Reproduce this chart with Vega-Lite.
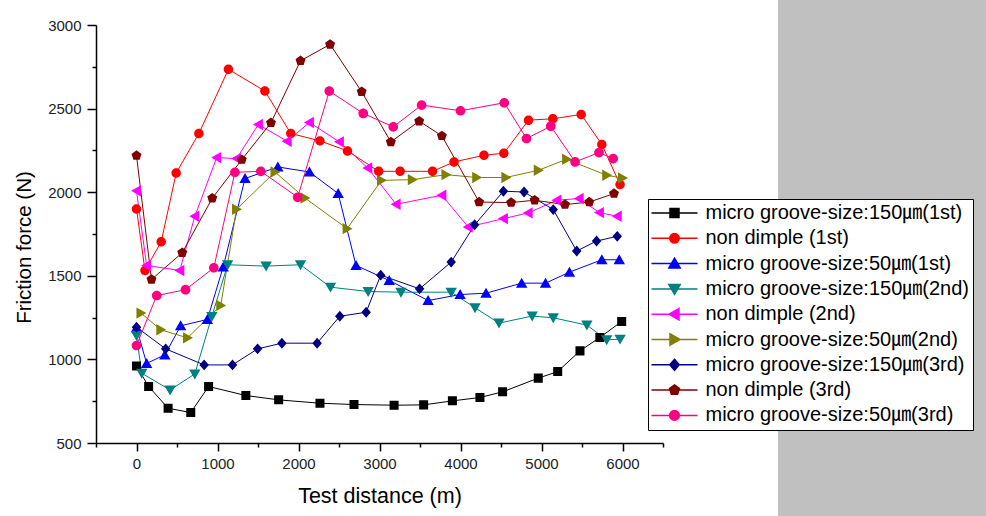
{
  "$schema": "https://vega.github.io/schema/vega-lite/v6.json",
  "width": 567,
  "height": 418,
  "autosize": {"type": "none"},
  "padding": {"left": 96, "top": 25, "right": 323, "bottom": 73},
  "background": "white",
  "config": {"view": {"stroke": null}, "font": "Liberation Sans"},
  "datasets": {
    "pts": [
      {"s": "micro groove-size:150㎛(1st)", "x": 0, "y": 960},
      {"s": "micro groove-size:150㎛(1st)", "x": 150, "y": 838},
      {"s": "micro groove-size:150㎛(1st)", "x": 390, "y": 708},
      {"s": "micro groove-size:150㎛(1st)", "x": 670, "y": 682},
      {"s": "micro groove-size:150㎛(1st)", "x": 890, "y": 838},
      {"s": "micro groove-size:150㎛(1st)", "x": 1350, "y": 784},
      {"s": "micro groove-size:150㎛(1st)", "x": 1755, "y": 758},
      {"s": "micro groove-size:150㎛(1st)", "x": 2265, "y": 738},
      {"s": "micro groove-size:150㎛(1st)", "x": 2685, "y": 730},
      {"s": "micro groove-size:150㎛(1st)", "x": 3180, "y": 726},
      {"s": "micro groove-size:150㎛(1st)", "x": 3545, "y": 728},
      {"s": "micro groove-size:150㎛(1st)", "x": 3900, "y": 752},
      {"s": "micro groove-size:150㎛(1st)", "x": 4240, "y": 772},
      {"s": "micro groove-size:150㎛(1st)", "x": 4520, "y": 806},
      {"s": "micro groove-size:150㎛(1st)", "x": 4960, "y": 888},
      {"s": "micro groove-size:150㎛(1st)", "x": 5200, "y": 927},
      {"s": "micro groove-size:150㎛(1st)", "x": 5475, "y": 1051},
      {"s": "micro groove-size:150㎛(1st)", "x": 5720, "y": 1131},
      {"s": "micro groove-size:150㎛(1st)", "x": 5990, "y": 1227},

      {"s": "non dimple (1st)", "x": 0, "y": 1900},
      {"s": "non dimple (1st)", "x": 105, "y": 1532},
      {"s": "non dimple (1st)", "x": 305, "y": 1704},
      {"s": "non dimple (1st)", "x": 490, "y": 2115},
      {"s": "non dimple (1st)", "x": 770, "y": 2351},
      {"s": "non dimple (1st)", "x": 1135, "y": 2735},
      {"s": "non dimple (1st)", "x": 1585, "y": 2605},
      {"s": "non dimple (1st)", "x": 1905, "y": 2351},
      {"s": "non dimple (1st)", "x": 2265, "y": 2307},
      {"s": "non dimple (1st)", "x": 2605, "y": 2247},
      {"s": "non dimple (1st)", "x": 2990, "y": 2125},
      {"s": "non dimple (1st)", "x": 3255, "y": 2125},
      {"s": "non dimple (1st)", "x": 3655, "y": 2125},
      {"s": "non dimple (1st)", "x": 3920, "y": 2181},
      {"s": "non dimple (1st)", "x": 4290, "y": 2221},
      {"s": "non dimple (1st)", "x": 4535, "y": 2233},
      {"s": "non dimple (1st)", "x": 4840, "y": 2431},
      {"s": "non dimple (1st)", "x": 5140, "y": 2439},
      {"s": "non dimple (1st)", "x": 5490, "y": 2465},
      {"s": "non dimple (1st)", "x": 5745, "y": 2285},
      {"s": "non dimple (1st)", "x": 5970, "y": 2046},

      {"s": "micro groove-size:50㎛(1st)", "x": 0, "y": 1190},
      {"s": "micro groove-size:50㎛(1st)", "x": 125, "y": 976},
      {"s": "micro groove-size:50㎛(1st)", "x": 350, "y": 1027},
      {"s": "micro groove-size:50㎛(1st)", "x": 545, "y": 1201},
      {"s": "micro groove-size:50㎛(1st)", "x": 875, "y": 1239},
      {"s": "micro groove-size:50㎛(1st)", "x": 1070, "y": 1552},
      {"s": "micro groove-size:50㎛(1st)", "x": 1340, "y": 2082},
      {"s": "micro groove-size:50㎛(1st)", "x": 1745, "y": 2151},
      {"s": "micro groove-size:50㎛(1st)", "x": 2135, "y": 2121},
      {"s": "micro groove-size:50㎛(1st)", "x": 2490, "y": 1992},
      {"s": "micro groove-size:50㎛(1st)", "x": 2710, "y": 1562},
      {"s": "micro groove-size:50㎛(1st)", "x": 3120, "y": 1472},
      {"s": "micro groove-size:50㎛(1st)", "x": 3600, "y": 1352},
      {"s": "micro groove-size:50㎛(1st)", "x": 3995, "y": 1388},
      {"s": "micro groove-size:50㎛(1st)", "x": 4315, "y": 1396},
      {"s": "micro groove-size:50㎛(1st)", "x": 4755, "y": 1456},
      {"s": "micro groove-size:50㎛(1st)", "x": 5050, "y": 1456},
      {"s": "micro groove-size:50㎛(1st)", "x": 5345, "y": 1522},
      {"s": "micro groove-size:50㎛(1st)", "x": 5745, "y": 1596},
      {"s": "micro groove-size:50㎛(1st)", "x": 5960, "y": 1596},

      {"s": "micro groove-size:150㎛(2nd)", "x": 0, "y": 1143},
      {"s": "micro groove-size:150㎛(2nd)", "x": 65, "y": 917},
      {"s": "micro groove-size:150㎛(2nd)", "x": 415, "y": 817},
      {"s": "micro groove-size:150㎛(2nd)", "x": 720, "y": 913},
      {"s": "micro groove-size:150㎛(2nd)", "x": 930, "y": 1257},
      {"s": "micro groove-size:150㎛(2nd)", "x": 1125, "y": 1566},
      {"s": "micro groove-size:150㎛(2nd)", "x": 1600, "y": 1558},
      {"s": "micro groove-size:150㎛(2nd)", "x": 2025, "y": 1566},
      {"s": "micro groove-size:150㎛(2nd)", "x": 2395, "y": 1432},
      {"s": "micro groove-size:150㎛(2nd)", "x": 2860, "y": 1406},
      {"s": "micro groove-size:150㎛(2nd)", "x": 3265, "y": 1402},
      {"s": "micro groove-size:150㎛(2nd)", "x": 3885, "y": 1402},
      {"s": "micro groove-size:150㎛(2nd)", "x": 4180, "y": 1309},
      {"s": "micro groove-size:150㎛(2nd)", "x": 4475, "y": 1217},
      {"s": "micro groove-size:150㎛(2nd)", "x": 4885, "y": 1259},
      {"s": "micro groove-size:150㎛(2nd)", "x": 5145, "y": 1249},
      {"s": "micro groove-size:150㎛(2nd)", "x": 5560, "y": 1205},
      {"s": "micro groove-size:150㎛(2nd)", "x": 5805, "y": 1117},
      {"s": "micro groove-size:150㎛(2nd)", "x": 5970, "y": 1121},

      {"s": "non dimple (2nd)", "x": 0, "y": 2008},
      {"s": "non dimple (2nd)", "x": 125, "y": 1562},
      {"s": "non dimple (2nd)", "x": 535, "y": 1532},
      {"s": "non dimple (2nd)", "x": 720, "y": 1856},
      {"s": "non dimple (2nd)", "x": 990, "y": 2207},
      {"s": "non dimple (2nd)", "x": 1235, "y": 2201},
      {"s": "non dimple (2nd)", "x": 1505, "y": 2405},
      {"s": "non dimple (2nd)", "x": 1860, "y": 2305},
      {"s": "non dimple (2nd)", "x": 2135, "y": 2417},
      {"s": "non dimple (2nd)", "x": 2505, "y": 2301},
      {"s": "non dimple (2nd)", "x": 2855, "y": 2145},
      {"s": "non dimple (2nd)", "x": 3205, "y": 1928},
      {"s": "non dimple (2nd)", "x": 3770, "y": 1982},
      {"s": "non dimple (2nd)", "x": 4095, "y": 1792},
      {"s": "non dimple (2nd)", "x": 4530, "y": 1842},
      {"s": "non dimple (2nd)", "x": 4835, "y": 1876},
      {"s": "non dimple (2nd)", "x": 5190, "y": 1952},
      {"s": "non dimple (2nd)", "x": 5465, "y": 1962},
      {"s": "non dimple (2nd)", "x": 5715, "y": 1878},
      {"s": "non dimple (2nd)", "x": 5935, "y": 1856},

      {"s": "micro groove-size:50㎛(2nd)", "x": 55, "y": 1277},
      {"s": "micro groove-size:50㎛(2nd)", "x": 300, "y": 1177},
      {"s": "micro groove-size:50㎛(2nd)", "x": 630, "y": 1129},
      {"s": "micro groove-size:50㎛(2nd)", "x": 1040, "y": 1323},
      {"s": "micro groove-size:50㎛(2nd)", "x": 1235, "y": 1898},
      {"s": "micro groove-size:50㎛(2nd)", "x": 1710, "y": 2121},
      {"s": "micro groove-size:50㎛(2nd)", "x": 2080, "y": 1965},
      {"s": "micro groove-size:50㎛(2nd)", "x": 2600, "y": 1782},
      {"s": "micro groove-size:50㎛(2nd)", "x": 3025, "y": 2071},
      {"s": "micro groove-size:50㎛(2nd)", "x": 3405, "y": 2075},
      {"s": "micro groove-size:50㎛(2nd)", "x": 3820, "y": 2105},
      {"s": "micro groove-size:50㎛(2nd)", "x": 4200, "y": 2088},
      {"s": "micro groove-size:50㎛(2nd)", "x": 4560, "y": 2088},
      {"s": "micro groove-size:50㎛(2nd)", "x": 4960, "y": 2131},
      {"s": "micro groove-size:50㎛(2nd)", "x": 5310, "y": 2197},
      {"s": "micro groove-size:50㎛(2nd)", "x": 5805, "y": 2101},
      {"s": "micro groove-size:50㎛(2nd)", "x": 6000, "y": 2085},

      {"s": "micro groove-size:150㎛(3rd)", "x": 0, "y": 1193},
      {"s": "micro groove-size:150㎛(3rd)", "x": 360, "y": 1063},
      {"s": "micro groove-size:150㎛(3rd)", "x": 835, "y": 967},
      {"s": "micro groove-size:150㎛(3rd)", "x": 1185, "y": 967},
      {"s": "micro groove-size:150㎛(3rd)", "x": 1495, "y": 1063},
      {"s": "micro groove-size:150㎛(3rd)", "x": 1795, "y": 1097},
      {"s": "micro groove-size:150㎛(3rd)", "x": 2230, "y": 1097},
      {"s": "micro groove-size:150㎛(3rd)", "x": 2510, "y": 1258},
      {"s": "micro groove-size:150㎛(3rd)", "x": 2835, "y": 1282},
      {"s": "micro groove-size:150㎛(3rd)", "x": 3015, "y": 1504},
      {"s": "micro groove-size:150㎛(3rd)", "x": 3495, "y": 1422},
      {"s": "micro groove-size:150㎛(3rd)", "x": 3885, "y": 1582},
      {"s": "micro groove-size:150㎛(3rd)", "x": 4175, "y": 1805},
      {"s": "micro groove-size:150㎛(3rd)", "x": 4530, "y": 2006},
      {"s": "micro groove-size:150㎛(3rd)", "x": 4785, "y": 2001},
      {"s": "micro groove-size:150㎛(3rd)", "x": 5145, "y": 1896},
      {"s": "micro groove-size:150㎛(3rd)", "x": 5435, "y": 1648},
      {"s": "micro groove-size:150㎛(3rd)", "x": 5680, "y": 1708},
      {"s": "micro groove-size:150㎛(3rd)", "x": 5935, "y": 1736},

      {"s": "non dimple (3rd)", "x": 0, "y": 2219},
      {"s": "non dimple (3rd)", "x": 185, "y": 1478},
      {"s": "non dimple (3rd)", "x": 565, "y": 1638},
      {"s": "non dimple (3rd)", "x": 935, "y": 1964},
      {"s": "non dimple (3rd)", "x": 1300, "y": 2195},
      {"s": "non dimple (3rd)", "x": 1660, "y": 2415},
      {"s": "non dimple (3rd)", "x": 2025, "y": 2786},
      {"s": "non dimple (3rd)", "x": 2390, "y": 2884},
      {"s": "non dimple (3rd)", "x": 2780, "y": 2601},
      {"s": "non dimple (3rd)", "x": 3140, "y": 2301},
      {"s": "non dimple (3rd)", "x": 3490, "y": 2425},
      {"s": "non dimple (3rd)", "x": 3770, "y": 2337},
      {"s": "non dimple (3rd)", "x": 4230, "y": 1941},
      {"s": "non dimple (3rd)", "x": 4625, "y": 1938},
      {"s": "non dimple (3rd)", "x": 4915, "y": 1952},
      {"s": "non dimple (3rd)", "x": 5290, "y": 1926},
      {"s": "non dimple (3rd)", "x": 5590, "y": 1941},
      {"s": "non dimple (3rd)", "x": 5895, "y": 1992},

      {"s": "micro groove-size:50㎛(3rd)", "x": 0, "y": 1083},
      {"s": "micro groove-size:50㎛(3rd)", "x": 250, "y": 1382},
      {"s": "micro groove-size:50㎛(3rd)", "x": 605, "y": 1417},
      {"s": "micro groove-size:50㎛(3rd)", "x": 955, "y": 1548},
      {"s": "micro groove-size:50㎛(3rd)", "x": 1215, "y": 2119},
      {"s": "micro groove-size:50㎛(3rd)", "x": 1535, "y": 2125},
      {"s": "micro groove-size:50㎛(3rd)", "x": 1990, "y": 1970},
      {"s": "micro groove-size:50㎛(3rd)", "x": 2380, "y": 2605},
      {"s": "micro groove-size:50㎛(3rd)", "x": 2800, "y": 2471},
      {"s": "micro groove-size:50㎛(3rd)", "x": 3170, "y": 2391},
      {"s": "micro groove-size:50㎛(3rd)", "x": 3520, "y": 2521},
      {"s": "micro groove-size:50㎛(3rd)", "x": 4000, "y": 2487},
      {"s": "micro groove-size:50㎛(3rd)", "x": 4540, "y": 2535},
      {"s": "micro groove-size:50㎛(3rd)", "x": 4815, "y": 2321},
      {"s": "micro groove-size:50㎛(3rd)", "x": 5115, "y": 2395},
      {"s": "micro groove-size:50㎛(3rd)", "x": 5415, "y": 2181},
      {"s": "micro groove-size:50㎛(3rd)", "x": 5710, "y": 2237},
      {"s": "micro groove-size:50㎛(3rd)", "x": 5885, "y": 2201}
    ]
  },
  "layer": [
    {
      "data": {"values": [{"part": "side"}]},
      "mark": {"type": "rect", "fill": "#C0C0C0", "opacity": 1, "clip": false},
      "encoding": {
        "x": {
          "datum": 7920, "type": "quantitative", "title": "Test distance (m)",
          "scale": {"domain": [-500, 6500], "nice": false, "zero": false},
          "axis": {
            "title": "Test distance (m)",
            "values": [-500, 0, 500, 1000, 1500, 2000, 2500, 3000, 3500, 4000, 4500, 5000, 5500, 6000, 6500],
            "format": "d",
            "labelExpr": "datum.value >= 0 && datum.value % 1000 === 0 ? datum.label : ''",
            "grid": false,
            "domainColor": "black", "domainWidth": 1.5,
            "tickColor": "black", "tickWidth": 1.5,
            "tickSize": {"condition": {"test": "datum.value % 1000 === 0", "value": 8}, "value": 4},
            "labelFont": "Liberation Sans", "labelFontSize": 15, "labelColor": "#222222",
            "labelPadding": 5, "labelFlush": false, "labelOverlap": false,
            "titleFont": "Liberation Sans", "titleFontSize": 21.5, "titleFontWeight": "normal", "titleColor": "black",
            "titlePadding": 14
          }
        },
        "x2": {"datum": 11000},
        "y": {
          "datum": 3400, "type": "quantitative", "title": "Friction force (N)",
          "scale": {"domain": [500, 3000], "nice": false, "zero": false},
          "axis": {
            "title": "Friction force (N)",
            "values": [500, 750, 1000, 1250, 1500, 1750, 2000, 2250, 2500, 2750, 3000],
            "format": "d",
            "labelExpr": "datum.value % 500 === 0 ? datum.label : ''",
            "grid": false,
            "domainColor": "black", "domainWidth": 1.5,
            "tickColor": "black", "tickWidth": 1.5,
            "tickSize": {"condition": {"test": "datum.value % 500 === 0", "value": 9}, "value": 4},
            "labelFont": "Liberation Sans", "labelFontSize": 15, "labelColor": "#222222",
            "labelPadding": 6, "labelFlush": false, "labelOverlap": false,
            "titleFont": "Liberation Sans", "titleFontSize": 20.5, "titleFontWeight": "normal", "titleColor": "black",
            "titlePadding": 13, "titleY": 222
          }
        },
        "y2": {"datum": 0}
      }
    },
    {
      "data": {"name": "pts"},
      "mark": {"type": "line", "strokeWidth": 1},
      "encoding": {
        "x": {"field": "x", "type": "quantitative", "title": "Test distance (m)"},
        "y": {"field": "y", "type": "quantitative", "title": "Friction force (N)"},
        "color": {
          "field": "s", "type": "nominal",
          "scale": {
            "domain": ["micro groove-size:150㎛(1st)", "non dimple (1st)", "micro groove-size:50㎛(1st)", "micro groove-size:150㎛(2nd)", "non dimple (2nd)", "micro groove-size:50㎛(2nd)", "micro groove-size:150㎛(3rd)", "non dimple (3rd)", "micro groove-size:50㎛(3rd)"],
            "range": ["#000000", "#FF0000", "#0000FF", "#008080", "#FF00FF", "#808000", "#000080", "#800000", "#FF0080"]
          }
        }
      }
    },
    {
      "data": {"name": "pts"},
      "mark": {"type": "point", "filled": true, "size": 90, "opacity": 1, "strokeWidth": 0},
      "encoding": {
        "x": {"field": "x", "type": "quantitative", "title": "Test distance (m)"},
        "y": {"field": "y", "type": "quantitative", "title": "Friction force (N)"},
        "color": {
          "field": "s", "type": "nominal",
          "legend": {
            "title": null,
            "orient": "none", "legendX": 552, "legendY": 174,
            "padding": 4,
            "fillColor": "white", "strokeColor": "black",
            "symbolSize": 90, "symbolOffset": 12.5, "labelOffset": 21,
            "rowPadding": 5.3,
            "labelFont": "Liberation Sans, Noto Sans CJK KR",
            "labelFontSize": 20, "labelColor": "black", "labelLimit": 0,
            "encode": {"symbols": {"update": {"stroke": {"scale": "color", "field": "value"}, "strokeWidth": {"value": 1}}}}
          }
        },
        "shape": {
          "field": "s", "type": "nominal",
          "scale": {
            "domain": ["micro groove-size:150㎛(1st)", "non dimple (1st)", "micro groove-size:50㎛(1st)", "micro groove-size:150㎛(2nd)", "non dimple (2nd)", "micro groove-size:50㎛(2nd)", "micro groove-size:150㎛(3rd)", "non dimple (3rd)", "micro groove-size:50㎛(3rd)"],
            "range": [
              "M-4.85,0H4.85M-0.95,-0.95H0.95V0.95H-0.95Z",
              "M-4.85,0H4.85M-1,0A1,1,0,1,1,1,0A1,1,0,1,1,-1,0Z",
              "M-4.85,0H4.85M0,-1.15L1.2,0.95H-1.2Z",
              "M-4.85,0H4.85M0,1.15L1.2,-0.95H-1.2Z",
              "M-4.85,0H4.85M-1.15,0L0.95,-1.2V1.2Z",
              "M-4.85,0H4.85M1.15,0L-0.95,-1.2V1.2Z",
              "M-4.85,0H4.85M0,-1.15L1,0L0,1.15L-1,0Z",
              "M-4.85,0H4.85M0,-1.1L1.05,-0.34L0.65,0.9H-0.65L-1.05,-0.34Z",
              "M-4.85,0H4.85M-1.02,0A1.02,1.02,0,1,1,1.02,0A1.02,1.02,0,1,1,-1.02,0Z"
            ]
          }
        }
      }
    }
  ]
}
